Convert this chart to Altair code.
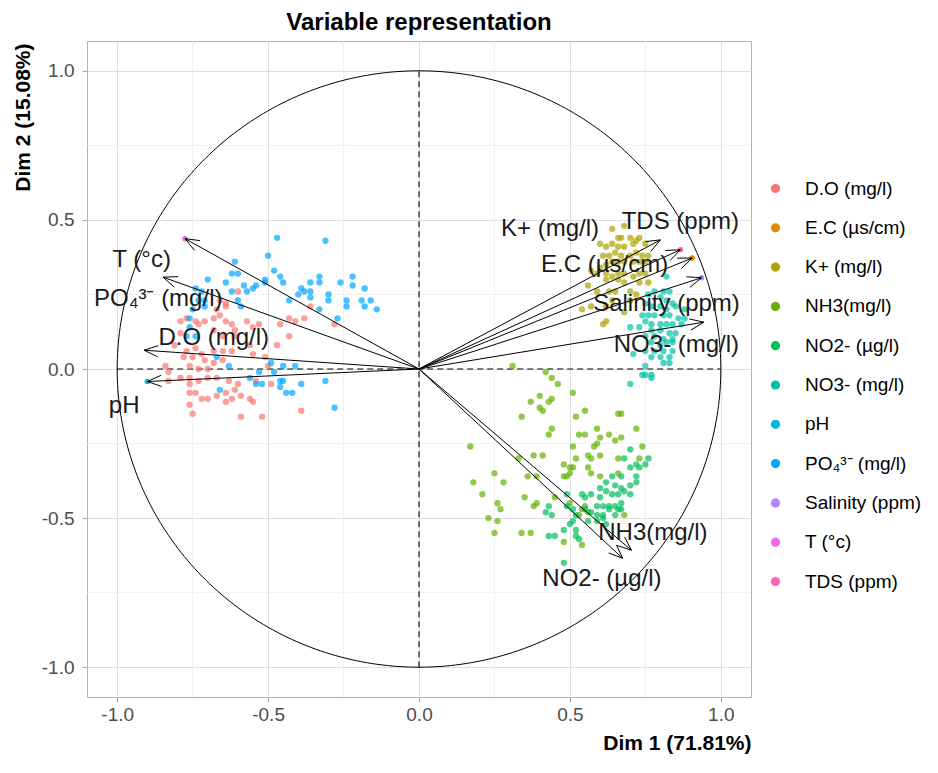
import altair as alt
import numpy as np
import pandas as pd

# ---------------- data ----------------
VARS = ["D.O (mg/l)", "E.C (µs/cm)", "K+ (mg/l)", "NH3(mg/l)", "NO2- (µg/l)",
        "NO3- (mg/l)", "pH", "PO₄³⁻ (mg/l)", "Salinity (ppm)", "T (°c)", "TDS (ppm)"]
COLORS = ["#F8766D", "#DB8E00", "#AEA200", "#64B200", "#00BD5C",
          "#00C1A7", "#00BADE", "#00A6FF", "#B385FF", "#EF67EB", "#FF63B6"]
# variable coordinates (Dim 1, Dim 2)
COORD_X = [-0.911, 0.905, 0.800, 0.704, 0.675, 0.944, -0.900, -0.848, 0.936, -0.775, 0.866]
COORD_Y = [0.063, 0.372, 0.433, -0.608, -0.635, 0.157, -0.042, 0.308, 0.306, 0.437, 0.400]
# label anchors
LABEL_X = [-0.680, 0.615, 0.434, 0.775, 0.606, 0.853, -0.977, -0.864, 0.820, -0.919, 0.866]
LABEL_Y = [0.103, 0.350, 0.471, -0.550, -0.704, 0.079, -0.125, 0.235, 0.217, 0.367, 0.493]
TIP_POINT_VARS = ["E.C (µs/cm)", "pH", "Salinity (ppm)", "T (°c)", "TDS (ppm)"]

DO_PTS = [(-0.60, 0.26), (-0.66, 0.23), (-0.64, 0.22), (-0.79, 0.16), (-0.77, 0.17), (-0.74, 0.16),
          (-0.71, 0.16), (-0.68, 0.17), (-0.66, 0.18), (-0.64, 0.16), (-0.62, 0.15), (-0.57, 0.16),
          (-0.55, 0.14), (-0.53, 0.15), (-0.43, 0.17), (-0.41, 0.16), (-0.38, 0.17), (-0.36, 0.21),
          (-0.28, 0.15), (-0.43, 0.11), (-0.47, 0.08), (-0.79, 0.12), (-0.81, 0.08), (-0.77, 0.06),
          (-0.74, 0.07), (-0.72, 0.05), (-0.68, 0.06), (-0.65, 0.06), (-0.62, 0.06), (-0.78, 0.04),
          (-0.75, 0.04), (-0.71, 0.03), (-0.68, 0.02), (-0.65, 0.03), (-0.76, 0.01), (-0.73, 0.00),
          (-0.70, 0.00), (-0.84, 0.01), (-0.83, -0.01), (-0.79, -0.03), (-0.76, -0.03), (-0.73, -0.04),
          (-0.70, -0.03), (-0.83, -0.04), (-0.76, -0.05), (-0.67, -0.03), (-0.63, -0.04), (-0.60, -0.05),
          (-0.54, -0.04), (-0.49, -0.05), (-0.76, -0.08), (-0.74, -0.08), (-0.72, -0.10), (-0.70, -0.10),
          (-0.67, -0.09), (-0.64, -0.08), (-0.61, -0.07), (-0.59, -0.09), (-0.64, -0.11), (-0.62, -0.10),
          (-0.56, -0.10), (-0.55, -0.11), (-0.76, -0.12), (-0.75, -0.15), (-0.59, -0.16), (-0.52, -0.16),
          (-0.39, -0.14), (-0.50, 0.01), (-0.51, 0.04), (-0.55, 0.05), (-0.56, 0.08), (-0.61, 0.11),
          (-0.61, 0.13), (-0.73, 0.15), (-0.68, 0.13), (-0.65, 0.11), (-0.46, 0.15), (-0.67, 0.20),
          (-0.64, 0.21)]
PO4_PTS = [(-0.47, 0.44), (-0.31, 0.43), (-0.50, 0.38), (-0.61, 0.36), (-0.48, 0.33), (-0.62, 0.32),
           (-0.60, 0.32), (-0.64, 0.29), (-0.70, 0.30), (-0.51, 0.30), (-0.46, 0.31), (-0.45, 0.29),
           (-0.54, 0.28), (-0.58, 0.28), (-0.55, 0.27), (-0.57, 0.26), (-0.51, 0.29), (-0.62, 0.26),
           (-0.39, 0.27), (-0.38, 0.26), (-0.36, 0.26), (-0.40, 0.25), (-0.36, 0.24), (-0.36, 0.29),
           (-0.33, 0.31), (-0.33, 0.29), (-0.30, 0.25), (-0.30, 0.23), (-0.26, 0.29), (-0.22, 0.31),
           (-0.22, 0.28), (-0.18, 0.27), (-0.16, 0.23), (-0.19, 0.23), (-0.18, 0.21), (-0.24, 0.23),
           (-0.24, 0.21), (-0.14, 0.20), (-0.27, 0.17), (-0.33, 0.20), (-0.43, 0.23), (-0.60, 0.23),
           (-0.59, 0.21), (-0.74, 0.27), (-0.72, 0.26), (-0.73, 0.23), (-0.71, 0.21), (-0.75, 0.20),
           (-0.76, 0.17), (-0.76, 0.14), (-0.74, 0.11), (-0.77, 0.11), (-0.67, 0.04), (-0.63, 0.01),
           (-0.49, 0.02), (-0.48, -0.01), (-0.45, 0.01), (-0.41, 0.01), (-0.53, -0.01), (-0.56, -0.03),
           (-0.52, -0.05), (-0.54, -0.05), (-0.46, -0.04), (-0.45, -0.04), (-0.46, -0.06), (-0.44, -0.08),
           (-0.42, -0.08), (-0.39, -0.05), (-0.31, -0.04), (-0.28, -0.13), (-0.66, -0.07), (-0.71, 0.23)]
K_PTS = [(0.64, 0.47), (0.68, 0.48), (0.66, 0.44), (0.67, 0.44), (0.70, 0.44), (0.72, 0.43),
         (0.73, 0.44), (0.75, 0.42), (0.71, 0.42), (0.68, 0.41), (0.66, 0.41), (0.64, 0.42),
         (0.62, 0.41), (0.60, 0.42), (0.61, 0.38), (0.63, 0.38), (0.65, 0.39), (0.67, 0.38),
         (0.70, 0.38), (0.72, 0.39), (0.74, 0.38), (0.76, 0.38), (0.75, 0.36), (0.73, 0.36),
         (0.71, 0.36), (0.68, 0.36), (0.66, 0.36), (0.64, 0.36), (0.62, 0.35), (0.60, 0.34),
         (0.57, 0.33), (0.59, 0.32), (0.62, 0.32), (0.64, 0.31), (0.66, 0.32), (0.68, 0.32),
         (0.71, 0.31), (0.73, 0.32), (0.75, 0.32), (0.66, 0.30), (0.68, 0.29), (0.62, 0.30),
         (0.56, 0.28), (0.59, 0.26), (0.63, 0.26), (0.65, 0.26), (0.70, 0.26), (0.72, 0.25),
         (0.73, 0.29), (0.76, 0.29), (0.54, 0.20), (0.57, 0.21), (0.62, 0.21), (0.62, 0.16),
         (0.61, 0.15), (0.68, 0.19), (0.64, 0.23), (0.70, 0.23)]
NO3_PTS = [(0.82, 0.31), (0.78, 0.26), (0.81, 0.26), (0.83, 0.26), (0.76, 0.25), (0.80, 0.24),
           (0.82, 0.23), (0.84, 0.22), (0.75, 0.22), (0.77, 0.21), (0.80, 0.21), (0.82, 0.20),
           (0.85, 0.21), (0.88, 0.20), (0.74, 0.18), (0.76, 0.18), (0.78, 0.18), (0.81, 0.18),
           (0.83, 0.18), (0.86, 0.17), (0.88, 0.17), (0.75, 0.16), (0.77, 0.15), (0.80, 0.15),
           (0.82, 0.15), (0.84, 0.15), (0.87, 0.15), (0.70, 0.14), (0.73, 0.14), (0.77, 0.13),
           (0.80, 0.13), (0.83, 0.12), (0.85, 0.12), (0.75, 0.11), (0.78, 0.11), (0.81, 0.10),
           (0.84, 0.10), (0.77, 0.09), (0.80, 0.08), (0.82, 0.09), (0.84, 0.09), (0.75, 0.06),
           (0.78, 0.06), (0.81, 0.06), (0.84, 0.06), (0.71, 0.05), (0.77, 0.04), (0.80, 0.04),
           (0.83, 0.04), (0.75, 0.01), (0.81, 0.02), (0.83, 0.02), (0.74, -0.02), (0.77, -0.03),
           (0.75, -0.02), (0.70, -0.05), (0.77, -0.02)]
NH3_PTS = [(0.31, 0.01), (0.42, -0.01), (0.44, -0.03), (0.46, -0.05), (0.51, -0.08), (0.40, -0.09),
           (0.37, -0.11), (0.43, -0.11), (0.44, -0.10), (0.40, -0.13), (0.41, -0.14), (0.34, -0.16),
           (0.52, -0.16), (0.55, -0.14), (0.66, -0.15), (0.67, -0.15), (0.59, -0.20), (0.53, -0.22),
           (0.55, -0.22), (0.43, -0.22), (0.44, -0.20), (0.60, -0.23), (0.63, -0.22), (0.65, -0.24),
           (0.67, -0.23), (0.72, -0.20), (0.59, -0.25), (0.58, -0.26), (0.51, -0.26), (0.38, -0.29),
           (0.41, -0.29), (0.52, -0.30), (0.56, -0.29), (0.57, -0.30), (0.60, -0.29), (0.66, -0.30),
           (0.74, -0.26), (0.73, -0.30), (0.33, -0.30), (0.48, -0.32), (0.50, -0.33), (0.51, -0.33),
           (0.48, -0.36), (0.49, -0.36), (0.50, -0.35), (0.56, -0.33), (0.57, -0.35), (0.60, -0.36),
           (0.66, -0.35), (0.39, -0.36), (0.36, -0.36), (0.35, -0.43), (0.39, -0.45), (0.38, -0.46),
           (0.45, -0.43), (0.50, -0.45), (0.55, -0.46), (0.56, -0.48), (0.54, -0.47), (0.53, -0.49),
           (0.54, -0.59), (0.17, -0.26), (0.18, -0.38), (0.21, -0.42), (0.25, -0.35), (0.28, -0.38),
           (0.26, -0.45), (0.27, -0.47), (0.23, -0.50), (0.26, -0.51), (0.25, -0.55), (0.34, -0.55),
           (0.37, -0.55), (0.48, -0.58), (0.68, -0.49)]
NO2_PTS = [(0.54, -0.42), (0.55, -0.43), (0.57, -0.42), (0.60, -0.43), (0.62, -0.41), (0.64, -0.42),
           (0.66, -0.42), (0.68, -0.41), (0.70, -0.42), (0.59, -0.46), (0.61, -0.46), (0.63, -0.46),
           (0.65, -0.46), (0.67, -0.45), (0.55, -0.47), (0.57, -0.48), (0.59, -0.49), (0.61, -0.49),
           (0.63, -0.47), (0.66, -0.47), (0.52, -0.49), (0.49, -0.46), (0.51, -0.47), (0.43, -0.46),
           (0.42, -0.48), (0.44, -0.49), (0.43, -0.56), (0.45, -0.56), (0.48, -0.54), (0.50, -0.52),
           (0.52, -0.54), (0.53, -0.57), (0.51, -0.51), (0.56, -0.51), (0.59, -0.51), (0.61, -0.50),
           (0.62, -0.52), (0.65, -0.49), (0.67, -0.47), (0.49, -0.42), (0.65, -0.39), (0.67, -0.40),
           (0.70, -0.39), (0.72, -0.38), (0.72, -0.36), (0.73, -0.33), (0.70, -0.33), (0.67, -0.36),
           (0.64, -0.36), (0.62, -0.38), (0.60, -0.40), (0.75, -0.32), (0.76, -0.30), (0.70, -0.27),
           (0.68, -0.30), (0.72, -0.32), (0.48, -0.65), (0.52, -0.56)]
CLUSTERS = {"D.O (mg/l)": DO_PTS, "PO₄³⁻ (mg/l)": PO4_PTS, "K+ (mg/l)": K_PTS,
            "NO3- (mg/l)": NO3_PTS, "NH3(mg/l)": NH3_PTS, "NO2- (µg/l)": NO2_PTS}

MAJOR_TICKS = [-1.0, -0.5, 0.0, 0.5, 1.0]
MINOR_GRID = [-0.75, -0.25, 0.25, 0.75]
REF_LINES = [(-1.0, 0.0, 1.0, 0.0), (0.0, -1.0, 0.0, 1.0)]

# ---------------- frames ----------------
vars_df = pd.DataFrame({"var": VARS, "x": COORD_X, "y": COORD_Y, "lx": LABEL_X, "ly": LABEL_Y})
vars_df["x0"] = 0.0
vars_df["y0"] = 0.0

pts = pd.DataFrame([(v, px, py) for v, lst in CLUSTERS.items() for px, py in lst],
                   columns=["var", "x", "y"])
tips = vars_df[vars_df["var"].isin(TIP_POINT_VARS)][["var", "x", "y"]]

head_len, head_ang = 0.05, np.deg2rad(22)
heads = []
for v, x, y in zip(VARS, COORD_X, COORD_Y):
    n = np.hypot(x, y)
    ux, uy = x / n, y / n
    for s in (1, -1):
        a = s * head_ang
        rx = ux * np.cos(a) - uy * np.sin(a)
        ry = ux * np.sin(a) + uy * np.cos(a)
        heads.append({"x": x, "y": y, "x2": x - head_len * rx, "y2": y - head_len * ry})
heads = pd.DataFrame(heads)

t = np.linspace(0, 2 * np.pi, 361)
circle = pd.DataFrame({"x": np.cos(t), "y": np.sin(t), "i": np.arange(len(t))})
refs = pd.DataFrame(REF_LINES, columns=["x", "y", "x2", "y2"])
minor = pd.DataFrame({"v": MINOR_GRID})

# ---------------- encodings ----------------
FONT = "Liberation Sans"
XS = alt.Scale(domain=[-1.1, 1.1], nice=False, zero=False)
YS = alt.Scale(domain=[-1.1, 1.1], nice=False, zero=False)
W, H = 664, 656
LBL = "replace(format(datum.value, '.1f'), '\u2212', '-')"
xaxis = alt.Axis(values=MAJOR_TICKS, labelExpr=LBL, title="Dim 1 (71.81%)",
                 grid=True, gridColor="#DEDEDE", gridWidth=1, domain=False,
                 tickColor="#A6A6A6", tickSize=5, labelColor="#4D4D4D", labelFontSize=19,
                 labelFont=FONT, labelPadding=3, titleFont=FONT, titleFontSize=21,
                 titleFontWeight="bold", titleColor="black", titleX=W, titleY=46,
                 titleAlign="right", titleBaseline="middle")
yaxis = alt.Axis(values=MAJOR_TICKS, labelExpr=LBL, title="Dim 2 (15.08%)",
                 grid=True, gridColor="#DEDEDE", gridWidth=1, domain=False,
                 tickColor="#A6A6A6", tickSize=5, labelColor="#4D4D4D", labelFontSize=19,
                 labelFont=FONT, labelPadding=8, titleFont=FONT, titleFontSize=21,
                 titleFontWeight="bold", titleColor="black", titleX=-64, titleY=2,
                 titleAngle=270, titleAlign="right", titleBaseline="middle")


def X(f):
    return alt.X(f, type="quantitative", scale=XS, axis=xaxis)


def Y(f):
    return alt.Y(f, type="quantitative", scale=YS, axis=yaxis)


legend = alt.Legend(title=None, orient="none", legendX=679, legendY=138, padding=0,
                    labelFont=FONT, labelFontSize=19, labelColor="black", labelOffset=20,
                    symbolType="circle", symbolSize=85, symbolOpacity=1, symbolStrokeWidth=0,
                    rowPadding=19.3, labelLimit=300)
color = alt.Color("var:N", scale=alt.Scale(domain=VARS, range=COLORS), legend=legend)

# ---------------- layers ----------------
minor_x = alt.Chart(minor).mark_rule(color="#ECECEC", strokeWidth=0.8).encode(x=X("v"))
minor_y = alt.Chart(minor).mark_rule(color="#ECECEC", strokeWidth=0.8).encode(y=Y("v"))
circ = alt.Chart(circle).mark_line(color="black", strokeWidth=1).encode(x=X("x"), y=Y("y"), order="i:Q")
ref = alt.Chart(refs).mark_rule(color="black", strokeWidth=1.1, strokeDash=[6, 4]).encode(
    x=X("x"), y=Y("y"), x2="x2", y2="y2")
cloud = alt.Chart(pts).mark_circle(size=40, opacity=0.7).encode(x=X("x"), y=Y("y"), color=color)
tip_pts = alt.Chart(tips).mark_circle(size=30, opacity=1).encode(x=X("x"), y=Y("y"), color=color)
arrows = alt.Chart(vars_df).mark_rule(color="black", strokeWidth=1).encode(
    x=X("x0"), y=Y("y0"), x2="x", y2="y")
arrowheads = alt.Chart(heads).mark_rule(color="black", strokeWidth=1).encode(
    x=X("x"), y=Y("y"), x2="x2", y2="y2")
labels = alt.Chart(vars_df).mark_text(font=FONT, fontSize=24, color="#1A1A1A",
                                      align="center", baseline="middle").encode(
    x=X("lx"), y=Y("ly"), text="var:N")

chart = alt.layer(minor_x, minor_y, circ, ref, cloud, tip_pts, arrows, arrowheads, labels).properties(
    width=W, height=H,
    title=alt.TitleParams("Variable representation", font=FONT, fontSize=24, fontWeight="bold",
                          color="black", anchor="middle", frame="group", offset=6),
    autosize=alt.AutoSizeParams(type="none"),
    padding={"left": 79, "top": 33, "right": 179, "bottom": 58},
).configure_view(stroke="#B3B3B3", strokeWidth=1)

chart.save("out.html", embed_options={"renderer": "svg", "actions": False})
